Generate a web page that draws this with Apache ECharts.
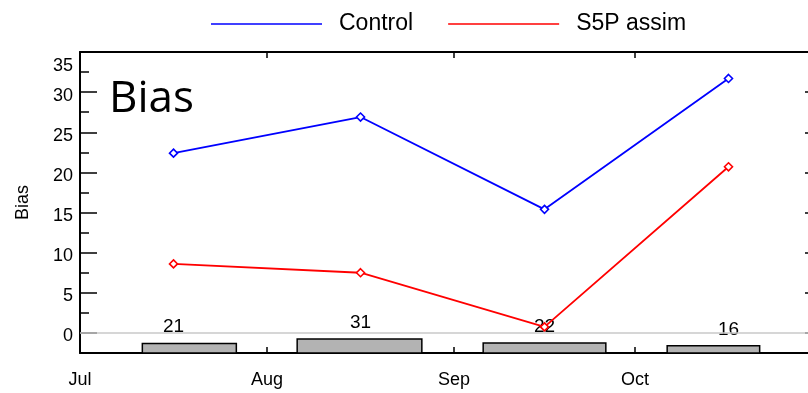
<!DOCTYPE html>
<html>
<head>
<meta charset="utf-8">
<script src="https://cdn.jsdelivr.net/npm/echarts@6/dist/echarts.min.js"></script>
<style>html,body{margin:0;padding:0;background:#fff}#c{width:808px;height:393px}</style>
</head>
<body>
<div id="c"></div>
<script>
// ---- data ----
const monthLabels = ['Jul', 'Aug', 'Sep', 'Oct'];
const monthStarts = ['2023-07-01', '2023-08-01', '2023-09-01', '2023-10-01', '2023-11-01'];
const pointDates = ['2023-07-16 12', '2023-08-16 12', '2023-09-16 00', '2023-10-16 12'];
const controlBias = [22.4, 26.9, 15.4, 31.7];
const s5pBias = [8.6, 7.5, 0.75, 20.7];
const obsCounts = [21, 31, 22, 16];
const obsStart = ['2023-07-11 08', '2023-08-06 00', '2023-09-05 20', '2023-10-06 08'];
const obsEnd = ['2023-07-26 22', '2023-08-26 16', '2023-09-26 04', '2023-10-21 16'];
const yMajorTicks = [0, 5, 10, 15, 20, 25, 30, 35];
const yMinorTicks = [2.5, 7.5, 12.5, 17.5, 22.5, 27.5, 32.5];

function ts(s) {
  const parts = s.split(' ');
  const d = parts[0].split('-').map(Number);
  const h = parts[1] ? Number(parts[1]) : 0;
  return Date.UTC(d[0], d[1] - 1, d[2], h);
}
const monthTs = monthStarts.map(ts);
const xMin = monthTs[0], xMax = monthTs[4];
const FONT = '"Liberation Sans", Arial, sans-serif';

const chart = echarts.init(document.getElementById('c'), null, {renderer: 'canvas'});
const option = {
  animation: false,
  title: {
    text: 'Bias', left: 104, top: 72,
    textStyle: {fontFamily: '"Open Sans", sans-serif', fontSize: 44, fontWeight: 'normal', color: '#000'}
  },
  legend: {
    left: 206, top: 7,
    icon: 'rect', itemWidth: 111, itemHeight: 1.5, itemGap: 35,
    textStyle: {fontFamily: FONT, fontSize: 23, color: '#000', padding: [0, 0, 0, 12], lineHeight: 24},
    data: [
      {name: 'Control', itemStyle: {color: '#0000ff', borderWidth: 0}},
      {name: 'S5P assim', itemStyle: {color: '#ff0000', borderWidth: 0}}
    ]
  },
  grid: {left: 80, top: 52, width: 742, height: 301, outerBoundsMode: 'none', containLabel: false},
  xAxis: [{
    type: 'value', min: xMin, max: xMax, position: 'bottom',
    axisLine: {onZero: false, lineStyle: {color: '#000', width: 2}},
    axisTick: {inside: true, length: 6, customValues: monthTs, lineStyle: {color: '#000', width: 1.5}},
    axisLabel: {
      customValues: monthTs.slice(0, 4), margin: 18,
      fontFamily: FONT, fontSize: 18, color: '#000',
      formatter: function (v) { return monthLabels[monthTs.indexOf(v)] || ''; }
    },
    splitLine: {show: false}
  }, {
    type: 'value', min: xMin, max: xMax, position: 'top',
    axisLine: {onZero: false, lineStyle: {color: '#000', width: 2}},
    axisTick: {inside: true, length: 6, customValues: monthTs, lineStyle: {color: '#000', width: 1.5}},
    axisLabel: {show: false}, splitLine: {show: false}
  }],
  yAxis: [{
    type: 'value', min: -2.5, max: 35, position: 'left',
    name: 'Bias', nameLocation: 'middle', nameGap: 48,
    nameTextStyle: {fontFamily: FONT, fontSize: 18, color: '#000'},
    axisLine: {onZero: false, lineStyle: {color: '#000', width: 2}},
    axisTick: {inside: true, length: 17, customValues: yMajorTicks, lineStyle: {color: '#000', width: 1.5}},
    axisLabel: {
      customValues: yMajorTicks, margin: 7,
      fontFamily: FONT, fontSize: 18, color: '#000', padding: [7, 0, 0, 0],
      formatter: function (v) { return v === 35 ? '{t|35}' : String(v); },
      rich: {t: {fontFamily: FONT, fontSize: 18, color: '#000', padding: [22, 0, 0, 0]}}
    },
    splitLine: {show: false}
  }, {
    type: 'value', min: -2.5, max: 35, position: 'right',
    axisLine: {onZero: false, lineStyle: {color: '#000', width: 2}},
    axisTick: {inside: true, length: 17, customValues: yMajorTicks, lineStyle: {color: '#000', width: 1.5}},
    axisLabel: {show: false}, splitLine: {show: false}
  }, {
    type: 'value', min: 0, max: 670, show: false, splitLine: {show: false}
  }, {
    type: 'value', min: -2.5, max: 35, position: 'left',
    axisLine: {show: false},
    axisTick: {inside: true, length: 9, customValues: yMinorTicks, lineStyle: {color: '#000', width: 1.5}},
    axisLabel: {show: false}, splitLine: {show: false}
  }],
  series: [{
    type: 'custom', name: 'obs', xAxisIndex: 0, yAxisIndex: 2, z: 1,
    encode: {x: [0, 1, 3], y: 2},
    data: obsCounts.map((n, i) => [ts(obsStart[i]), ts(obsEnd[i]), n, ts(pointDates[i])]),
    renderItem: function (params, api) {
      const p0 = api.coord([api.value(0), 0]);
      const p1 = api.coord([api.value(1), api.value(2)]);
      const pl = api.coord([api.value(3), api.value(2)]);
      return {
        type: 'group', children: [{
          type: 'rect',
          shape: {x: p0[0], y: p1[1], width: p1[0] - p0[0], height: p0[1] - p1[1]},
          style: {fill: '#b3b3b3', stroke: '#000', lineWidth: 1.5}
        }, {
          type: 'text',
          style: {
            text: String(api.value(2)), x: pl[0], y: p1[1] - 7,
            align: 'center', verticalAlign: 'bottom',
            font: '19px "Liberation Sans", Arial, sans-serif', fill: '#000'
          }
        }]
      };
    }
  }, {
    type: 'line', name: 'Control', xAxisIndex: 0, yAxisIndex: 0, z: 3,
    data: controlBias.map((v, i) => [ts(pointDates[i]), v]),
    symbol: 'diamond', symbolSize: 8,
    lineStyle: {color: '#0000ff', width: 1.8},
    itemStyle: {color: '#ffffff', borderColor: '#0000ff', borderWidth: 1.6},
    markLine: {
      silent: true, symbol: 'none', label: {show: false}, animation: false,
      lineStyle: {color: '#c8c8c8', width: 1.5, type: 'solid'},
      data: [{yAxis: 0}]
    }
  }, {
    type: 'line', name: 'S5P assim', xAxisIndex: 0, yAxisIndex: 0, z: 4,
    data: s5pBias.map((v, i) => [ts(pointDates[i]), v]),
    symbol: 'diamond', symbolSize: 8,
    lineStyle: {color: '#ff0000', width: 1.8},
    itemStyle: {color: '#ffffff', borderColor: '#ff0000', borderWidth: 1.6}
  }]
};
chart.setOption(option);
</script>
</body>
</html>
